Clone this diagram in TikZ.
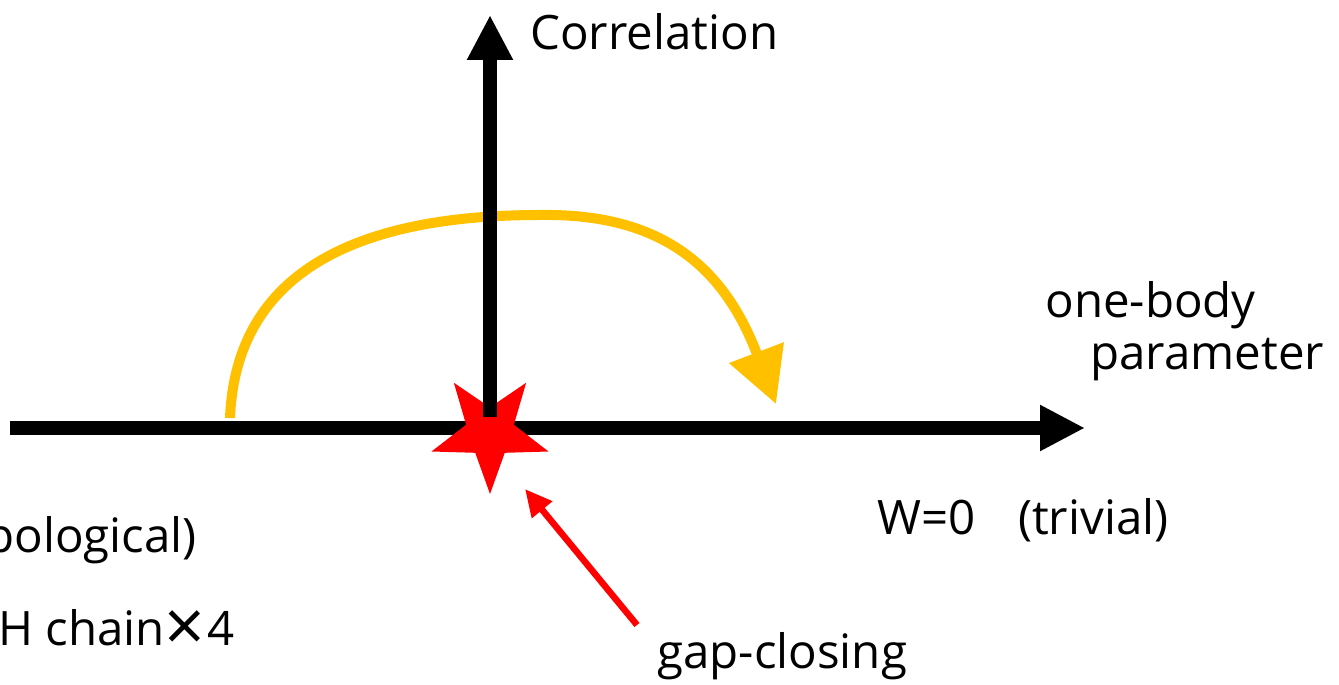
\documentclass[tikz,border=0pt]{standalone}
\usepackage{fontspec}
\setmainfont{Open Sans}
\usetikzlibrary{arrows.meta, shapes.geometric}

\definecolor{flowyellow}{HTML}{FFC000}

\begin{document}
\begin{tikzpicture}[x=0.02cm, y=-0.02cm,
    axis/.style={line width=0.28cm, -{Triangle[length=0.9cm, width=0.86cm]}},
    flow/.style={flowyellow, line width=0.2cm, -{Triangle[length=1.1cm, width=1.12cm]}},
    pointer/.style={red, line width=0.13cm, -{Triangle[length=0.54cm, width=0.5cm]}},
    txt/.style={inner sep=0pt, font=\fontsize{27}{32}\selectfont}]
    \useasboundingbox (0,0) rectangle (1339,685);
    % end points of the axes and arrows
    \coordinate (hstart) at (10,428);
    \coordinate (hend) at (1085,428);
    \coordinate (vstart) at (490,417);
    \coordinate (vend) at (490,15);
    \coordinate (pathstart) at (230,418);
    \coordinate (pathtop) at (540,215);
    \coordinate (pathend) at (776,404);
    \coordinate (gaptail) at (637,625);
    \coordinate (gaptip) at (525,489);

    \draw[flow] (pathstart) .. controls (236,270) and (360,215) .. (pathtop)
        .. controls (665,213) and (725,270) .. (pathend);
    \draw[axis] (hstart) -- (hend);
    \node[star, star points=5, star point ratio=2.45, shape border rotate=180,
        fill=red, inner sep=0pt, minimum size=2.46cm] (gap) at (490,432.5) {};
    \draw[axis] (vstart) -- (vend);
    \draw[pointer] (gaptail) -- (gaptip);

    \node[txt, anchor=base west] (corr) at (530,50) {Correlation};
    \node[txt, anchor=base west] (onebody) at (1045,318) {one-body};
    \node[txt, anchor=base west] (param) at (1090,370) {parameter};
    \node[txt, anchor=base west] (trivial) at (877,535) {W=0\hspace{0.9em}(trivial)};
    \node[txt, anchor=base east] (topo) at (197,553) {(topological)};
    \node[txt, anchor=base west] (ssh) at (-2,645) {\llap{SS\kern0.1em}H chain\raisebox{-0.14em}{\scalebox{1.5}{×}}\kern0.05em 4};
    \node[txt, anchor=base west] (gaplabel) at (657,668) {gap-closing};
\end{tikzpicture}
\end{document}
